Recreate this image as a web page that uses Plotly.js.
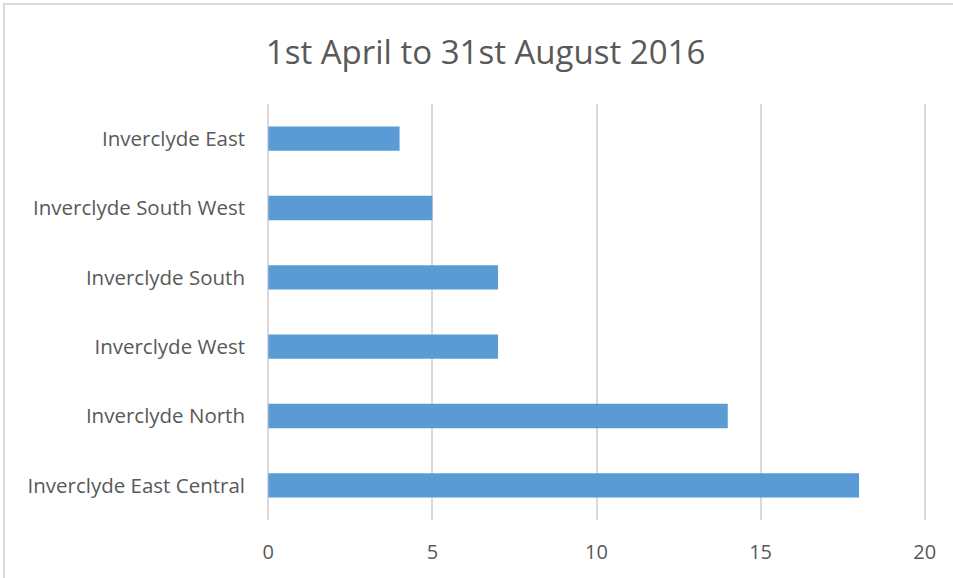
<!DOCTYPE html>
<html>
<head>
<meta charset="utf-8">
<script src="https://cdn.plot.ly/plotly-3.0.1.min.js"></script>
<style>
html,body{margin:0;padding:0;background:#fff;}
#frame{position:absolute;left:3px;top:3px;width:960px;height:600px;border-left:2px solid #D9D9D9;border-top:2px solid #D9D9D9;pointer-events:none;z-index:5;}
#chart{width:953px;height:578px;}
</style>
</head>
<body>
<div id="frame"></div>
<div id="chart"></div>
<script>
const categories = ["Inverclyde East Central","Inverclyde North","Inverclyde West","Inverclyde South","Inverclyde South West","Inverclyde East"];
const values = [18, 14, 7, 7, 5, 4];
const xTicks = [0, 5, 10, 15, 20];

const trace = {
  type: 'bar',
  orientation: 'h',
  y: categories,
  x: values,
  marker: {color: '#5B9BD5'},
  width: 0.35,
  hoverinfo: 'x+y'
};

const layout = {
  width: 953, height: 578,
  margin: {l: 267, r: 27, t: 104, b: 58},
  paper_bgcolor: '#ffffff', plot_bgcolor: '#ffffff',
  showlegend: false,
  font: {family: 'Open Sans, sans-serif', color: '#595959', size: 20},
  title: {text: '1st April to 31st August 2016', font: {size: 33, color: '#595959', family: 'Open Sans, sans-serif'},
          xref: 'container', x: 0.5095, xanchor: 'center', yref: 'container', y: 0.91, yanchor: 'middle'},
  xaxis: {range: [-0.04, 20.04], tickvals: xTicks, ticktext: xTicks.map(String), showgrid: true, gridcolor: '#D9D9D9', gridwidth: 2,
          zeroline: false, showline: false, ticks: '', ticklabelstandoff: 18, tickfont: {size: 20, color: '#595959'}, fixedrange: true},
  yaxis: {type: 'category', categoryorder: 'array', categoryarray: categories, showgrid: false, zeroline: false, showline: false,
          ticks: '', ticklabelstandoff: 21, tickfont: {size: 20.5, color: '#595959'}, fixedrange: true},
  bargap: 0.65
};

Plotly.newPlot('chart', [trace], layout, {displayModeBar: false, staticPlot: true});
</script>
</body>
</html>
